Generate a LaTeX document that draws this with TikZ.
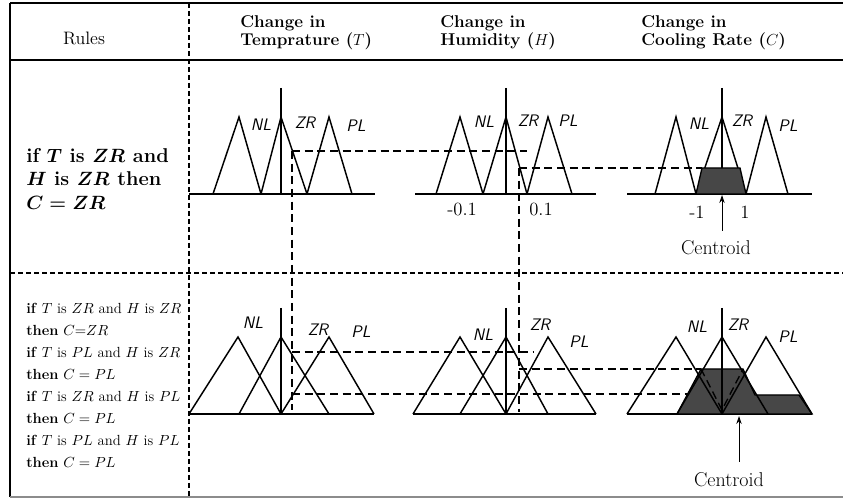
\documentclass[tikz,border=0pt]{standalone}
\usepackage{amsmath}
\usetikzlibrary{arrows.meta,positioning}

\begin{document}
\begin{tikzpicture}[x=0.75pt,y=0.75pt,yscale=-1,xscale=1,
  mf/.style={line width=1.1pt, line join=miter},
  guide/.style={line width=1pt, dash pattern=on 6pt off 3.5pt},
  sep/.style={line width=1pt, dash pattern=on 3.5pt off 2.5pt},
  lbl/.style={font=\fontsize{12.5}{14}\selectfont\sffamily\itshape, inner sep=0pt},
  num/.style={font=\fontsize{14}{16}\selectfont, inner sep=0pt},
  head/.style={font=\fontsize{12.8}{13.5}\selectfont\bfseries, align=left, anchor=west, inner sep=0pt},
  shade/.style={fill=black!72, draw=black, line width=1pt},
]
\useasboundingbox (0,0) rectangle (843,498);

% Frame
\draw[line width=1.6pt] (10,3) -- (843,3);
\draw[line width=1.2pt] (10,60) -- (843,60);
\draw[line width=1pt] (10,3) -- (10,497);
\draw[line width=1pt, black!45] (10,497) -- (843,497);
\draw[sep] (189,3) -- (189,497);
\draw[sep] (10,273) -- (843,273);

% Header
\node[font=\fontsize{13.5}{15}\selectfont, inner sep=0pt] (rules) at (84,38) {Rules};
\node[head] (hT) at (240,33) {Change in\\Temprature ($T$)};
\node[head] (hH) at (440,33) {Change in\\Humidity ($H$)};
\node[head] (hC) at (641,33) {Change in\\Cooling Rate ($C$)};

% Rules
\node[font=\fontsize{15}{17.5}\selectfont\bfseries\boldmath, align=left, anchor=west, inner sep=0pt] (rule1) at (26,179)
  {if $T$ is $ZR$ and\\$H$ is $ZR$ then\\$C = ZR$};
\node[font=\fontsize{11}{16.5}\selectfont, align=left, anchor=west, inner sep=0pt] (rule2) at (26,385)
  {\textbf{if} $T$ is $ZR$ and $H$ is $ZR$\\\textbf{then} $C{=}ZR$\\
   \textbf{if} $T$ is $PL$ and $H$ is $ZR$\\\textbf{then} $C = PL$\\
   \textbf{if} $T$ is $ZR$ and $H$ is $PL$\\\textbf{then} $C = PL$\\
   \textbf{if} $T$ is $PL$ and $H$ is $PL$\\\textbf{then} $C = PL$};

% Single rule: membership sets
\draw[mf] (189,194) -- (375,194);
\draw[mf] (415,194) -- (596,194);
\draw[mf] (627,194) -- (812,194);
\foreach \a/\b/\c in {213/239/261, 261/281/307, 307/329/352,
                      436/460/483, 483/506/527, 527/548/572,
                      655/676/696, 696/722/746, 746/766/788}
  \draw[mf] (\a,194) -- (\b,117) -- (\c,194);
\foreach \x in {281,506,722}
  \draw[line width=0.8pt] (\x,88) -- (\x,194);
\draw[shade] (696,194) -- (702,168) -- (740,168) -- (746,194) -- cycle;

\node[lbl] (tNL1) at (261,125) {NL};
\node[lbl] (tZR1) at (305,123) {ZR};
\node[lbl] (tPL1) at (356,126) {PL};
\node[lbl] (hNL1) at (484,122) {NL};
\node[lbl] (hZR1) at (528,121) {ZR};
\node[lbl] (hPL1) at (568,121) {PL};
\node[lbl] (cNL1) at (699,124) {NL};
\node[lbl] (cZR1) at (742,121) {ZR};
\node[lbl] (cPL1) at (788,126) {PL};

\node[num] (hmin) at (462,209) {-0.1};
\node[num] (hmax) at (541,209) {0.1};
\node[num] (cmin) at (697,212) {-1};
\node[num] (cmax) at (745,212) {1};
\node[num,font=\fontsize{15}{17}\selectfont] (cen1) at (716,248) {Centroid};
\coordinate (cen1a) at (722,231);
\coordinate (cen1b) at (722,195);
\draw[line width=0.7pt, -{Stealth[length=6pt,width=4pt]}] (cen1a) -- (cen1b);

% Four rules: membership sets
\draw[mf] (189,414) -- (374,414);
\draw[mf] (413,414) -- (596,414);
\draw[mf] (627,414) -- (812,414);
\draw[shade] (677,414) -- (701,369) -- (743,369) -- (755,395) -- (799,395) -- (812,414) -- cycle;
\foreach \a/\b/\c in {189/238/281, 239/281/329, 281/329/374,
                      413/460/506, 460/506/548, 506/548/596,
                      627/676/722, 677/722/768, 722/766/812}
  \draw[mf] (\a,414) -- (\b,337) -- (\c,414);
\foreach \x in {281,506,722}
  \draw[line width=0.8pt] (\x,308) -- (\x,414);
\draw[guide] (701,369) -- (722,410) -- (743,369);

\node[lbl] (tNL2) at (253,323) {NL};
\node[lbl] (tZR2) at (318,330) {ZR};
\node[lbl] (tPL2) at (361,332) {PL};
\node[lbl] (hNL2) at (483,335) {NL};
\node[lbl] (hZR2) at (540,325) {ZR};
\node[lbl] (hPL2) at (579,342) {PL};
\node[lbl] (cNL2) at (697,327) {NL};
\node[lbl] (cZR2) at (738,325) {ZR};
\node[lbl] (cPL2) at (788,337) {PL};

\node[num,font=\fontsize{15}{17}\selectfont] (cen2) at (729,480) {Centroid};
\coordinate (cen2a) at (739,462);
\coordinate (cen2b) at (739,416);
\draw[line width=0.7pt, -{Stealth[length=6pt,width=4pt]}] (cen2a) -- (cen2b);

% Inference guides
\draw[guide] (292,151) -- (527,151);
\draw[guide] (292,151) -- (292,410);
\draw[guide] (519,168) -- (702,168);
\draw[guide] (519,168) -- (519,412);
\draw[guide] (292,352) -- (533,352);
\draw[guide] (292,394) -- (688,394);
\draw[guide] (519,369) -- (701,369);

\end{tikzpicture}
\end{document}
